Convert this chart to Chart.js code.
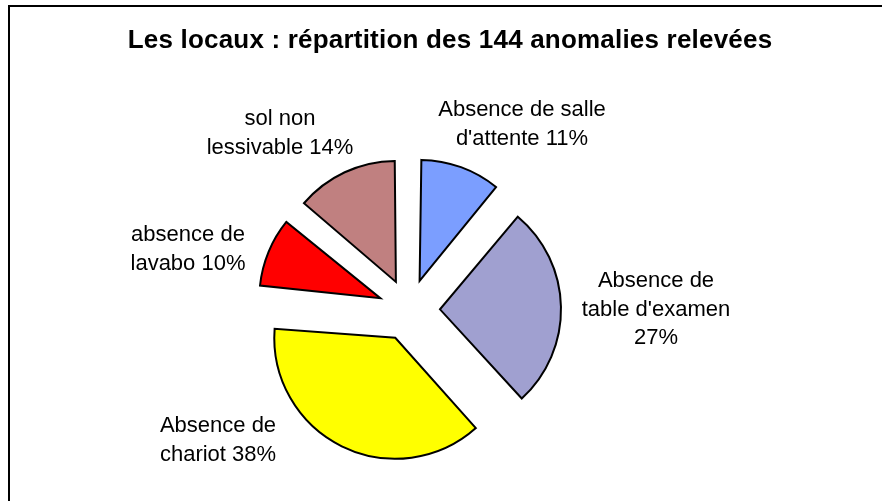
<!DOCTYPE html>
<html>
<head>
<meta charset="utf-8">
<script src="https://cdn.jsdelivr.net/npm/chart.js@4.4.1/dist/chart.umd.min.js"></script>
<style>
  html, body { margin: 0; padding: 0; background: #fff; overflow: hidden; }
  #frame { position: absolute; left: 8px; top: 5px; width: 900px; height: 520px; border: 2px solid #000; }
  #wrap { position: absolute; left: 0; top: 0; width: 882px; height: 501px; }
</style>
</head>
<body>
<div id="frame"></div>
<div id="wrap"><canvas id="myChart" width="882" height="501"></canvas></div>
<script>
// data (144 anomalies in total)
const chartTitle = 'Les locaux : répartition des 144 anomalies relevées';
const categories = ["Absence de salle d'attente", "Absence de table d'examen", 'Absence de chariot', 'absence de lavabo', 'sol non lessivable'];
const counts = [16, 39, 55, 14, 20];

// styles / layout
const sliceColors = ['#7B9EFF', '#A0A0D0', '#FFFF00', '#FF0000', '#C08080'];
const PIE_R = 121;
const EXPLODE = 124; // chart.js moves each slice by offset/4
const LH = 28.5;
// label block placement, relative to the pie centre, and wrap width
const labelPlace = [
  {dx: 113, dy: -187, w: 175},
  {dx: 247, dy: -2, w: 160},
  {dx: -191, dy: 129, w: 130},
  {dx: -221, dy: -62, w: 125},
  {dx: -129, dy: -178, w: 160}
];

function wrap(ctx, text, maxW) {
  const words = text.split(' ');
  const lines = [];
  let cur = '';
  words.forEach(w => {
    const t = cur ? cur + ' ' + w : w;
    if (cur && ctx.measureText(t).width > maxW) {
      lines.push(cur);
      cur = w;
    } else {
      cur = t;
    }
  });
  if (cur) lines.push(cur);
  return lines;
}

// keep all slices the same radius (chart.js grows narrow exploded slices)
const radiusFix = {
  id: 'radiusFix',
  beforeDatasetsDraw(chart) {
    chart.getDatasetMeta(0).data.forEach(arc => {
      const fix = 1 - Math.sin(Math.min(Math.PI, arc.circumference));
      arc.outerRadius = PIE_R - (EXPLODE / 4) * fix;
    });
  }
};

const sliceLabels = {
  id: 'sliceLabels',
  afterDatasetsDraw(chart) {
    const ctx = chart.ctx;
    const meta = chart.getDatasetMeta(0);
    const total = counts.reduce((a, b) => a + b, 0);
    ctx.save();
    ctx.font = '22px "Liberation Sans", Arial, sans-serif';
    ctx.fillStyle = '#000';
    ctx.textAlign = 'center';
    ctx.textBaseline = 'alphabetic';
    meta.data.forEach((arc, i) => {
      const pct = Math.round(counts[i] / total * 100) + '%';
      const lines = wrap(ctx, categories[i] + ' ' + pct, labelPlace[i].w);
      const cx = arc.x + labelPlace[i].dx;
      const cy = arc.y + labelPlace[i].dy;
      lines.forEach((ln, k) => {
        ctx.fillText(ln, cx, cy - (lines.length - 1) * LH / 2 + k * LH + 7.6);
      });
    });
    ctx.restore();
  }
};

const titleDraw = {
  id: 'titleDraw',
  afterDraw(chart) {
    const ctx = chart.ctx;
    ctx.save();
    ctx.font = 'bold 26px "Liberation Sans", Arial, sans-serif';
    ctx.letterSpacing = '0.2px';
    ctx.fillStyle = '#000';
    ctx.textAlign = 'center';
    ctx.fillText(chartTitle, 450, 48);
    ctx.restore();
  }
};

const ctx = document.getElementById('myChart');
new Chart(ctx, {
  type: 'pie',
  data: {
    labels: categories,
    datasets: [{
      data: counts,
      backgroundColor: sliceColors,
      borderColor: '#000',
      borderWidth: 2,
      borderJoinStyle: 'miter',
      offset: EXPLODE
    }]
  },
  options: {
    responsive: false,
    animation: false,
    radius: PIE_R,
    events: [],
    layout: {
      padding: {left: 209, right: 273, top: 210, bottom: 91}
    },
    plugins: {
      legend: {display: false},
      tooltip: {enabled: false},
      title: {display: false}
    }
  },
  plugins: [radiusFix, sliceLabels, titleDraw]
});
</script>
</body>
</html>
